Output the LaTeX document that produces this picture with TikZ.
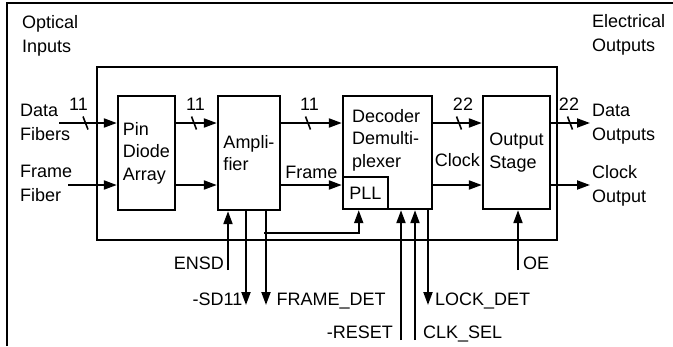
\documentclass[tikz,border=0pt]{standalone}
\usepackage{fontspec}
\setsansfont{Liberation Sans}
\usetikzlibrary{arrows.meta,positioning,calc}

\begin{document}
\begin{tikzpicture}[
    x=1pt, y=-1pt,
    font=\sffamily\fontsize{18}{24}\selectfont,
    chipbox/.style={draw, line width=2.2pt, minimum width=460pt, minimum height=173pt, inner sep=0pt},
    blockbox/.style={draw, line width=2.4pt, inner sep=0pt, align=left, font=\sffamily\fontsize{18}{22.5}\selectfont},
    pllbox/.style={draw, line width=2pt, minimum width=45pt, minimum height=32pt, inner sep=0pt},
    lbl/.style={anchor=north west, inner sep=0pt, align=left},
    buslbl/.style={anchor=base, inner sep=0pt},
    busmark/.style={line width=1.6pt},
    arrow/.style={-{Triangle[length=13pt, width=9pt]}, line width=2pt}
]
    \useasboundingbox (0,0) rectangle (673,346);

    % outer frame
    \draw[line width=2pt] (7,346) -- (7,3) -- (673,3);

    % chip and blocks
    \node[chipbox] (chip) at (327,153.5) {};
    \node[blockbox, minimum width=57pt, minimum height=114pt] (pin) at (146.5,153) {Pin\\Diode\\Array};
    \node[blockbox, minimum width=62pt, minimum height=114pt] (amp) at (249,153) {Ampli-\\fier};
    \node[blockbox, minimum width=89pt, minimum height=113pt] (dec) at (387.5,152.5) {};
    \node[pllbox, anchor=south west] (pll) at (dec.south west) {PLL};
    \node[blockbox, minimum width=67pt, minimum height=113pt] (out) at (516.5,152.5) {Output\\Stage};
    \node[lbl, font=\sffamily\fontsize{18}{22.5}\selectfont] (dectxt) at (352,109) {Decoder\\Demulti-\\plexer};

    % side texts
    \node[lbl] (optin) at (22,15) {Optical\\Inputs};
    \node[lbl] (elout) at (592,14) {Electrical\\Outputs};
    \node[lbl] (datafib) at (20,104) {Data\\Fibers};
    \node[lbl] (framefib) at (20,165) {Frame\\Fiber};
    \node[lbl] (dataout) at (592,104) {Data\\Outputs};
    \node[lbl] (clkout) at (592,165) {Clock\\Output};

    % free ends
    \coordinate (din) at (59,123);
    \coordinate (fin) at (68,185);
    \coordinate (dout) at (590,123);
    \coordinate (cout) at (590,185);

    % data path
    \draw[arrow] (din) -- (din -| pin.west);
    \draw[arrow] (fin) -- (fin -| pin.west);
    \draw[arrow] (pin.east |- din) -- (amp.west |- din);
    \draw[arrow] (pin.east |- fin) -- (amp.west |- fin);
    \draw[arrow] (amp.east |- din) -- (dec.west |- din);
    \draw[arrow] (amp.east |- fin) -- node[above=5pt, inner sep=0pt] (framelbl) {Frame} (dec.west |- fin);
    \draw[arrow] (dec.east |- din) -- (out.west |- din);
    \draw[arrow] (dec.east |- fin) -- node[above=17pt, inner sep=0pt] (clocklbl) {Clock} (out.west |- fin);
    \draw[arrow] (out.east |- din) -- (dout);
    \draw[arrow] (out.east |- fin) -- (cout);

    % bus widths
    \foreach \x in {85.5, 194, 308, 459, 570}
        \draw[busmark] (\x,123) +(-2.5,-6.5) -- +(2.5,6.5);
    \foreach \x/\t [count=\i] in {78.5/11, 195.5/11, 309.5/11, 463/22, 569/22}
        \node[buslbl] (bus\i) at (\x,110) {\t};

    % control signals
    \coordinate (ensd) at (228,270);
    \coordinate (sdo) at (246,305);
    \coordinate (frdet) at (266,305);
    \coordinate (tap) at (264,233);
    \coordinate (reset) at (401,340);
    \coordinate (clksel) at (415,340);
    \coordinate (lockdet) at (428,305);
    \coordinate (oe) at (518,270);

    \draw[arrow] (ensd) -- (ensd |- amp.south);
    \draw[arrow] (sdo |- amp.south) -- (sdo);
    \draw[arrow] (frdet |- amp.south) -- (frdet);
    \draw[arrow] (tap) -| ($(pll.south west)!0.36!(pll.south east)$);
    \draw[arrow] (reset) -- (reset |- dec.south);
    \draw[arrow] (clksel) -- (clksel |- dec.south);
    \draw[arrow] (lockdet |- dec.south) -- (lockdet);
    \draw[arrow] (oe) -- (oe |- out.south);

    \node[anchor=base east, inner sep=0pt] (ensdlbl) at (224,269) {ENSD};
    \node[anchor=base east, inner sep=0pt] (sdolbl) at (242.5,305) {-SD11};
    \node[anchor=base west, inner sep=0pt] (frdetlbl) at (276.5,305) {FRAME\_DET};
    \node[anchor=base east, inner sep=0pt] (resetlbl) at (393,338) {-RESET};
    \node[anchor=base west, inner sep=0pt] (clksellbl) at (423,338) {CLK\_SEL};
    \node[anchor=base west, inner sep=0pt] (lockdetlbl) at (435,305) {LOCK\_DET};
    \node[anchor=base west, inner sep=0pt] (oelbl) at (523,269) {OE};

\end{tikzpicture}
\end{document}
